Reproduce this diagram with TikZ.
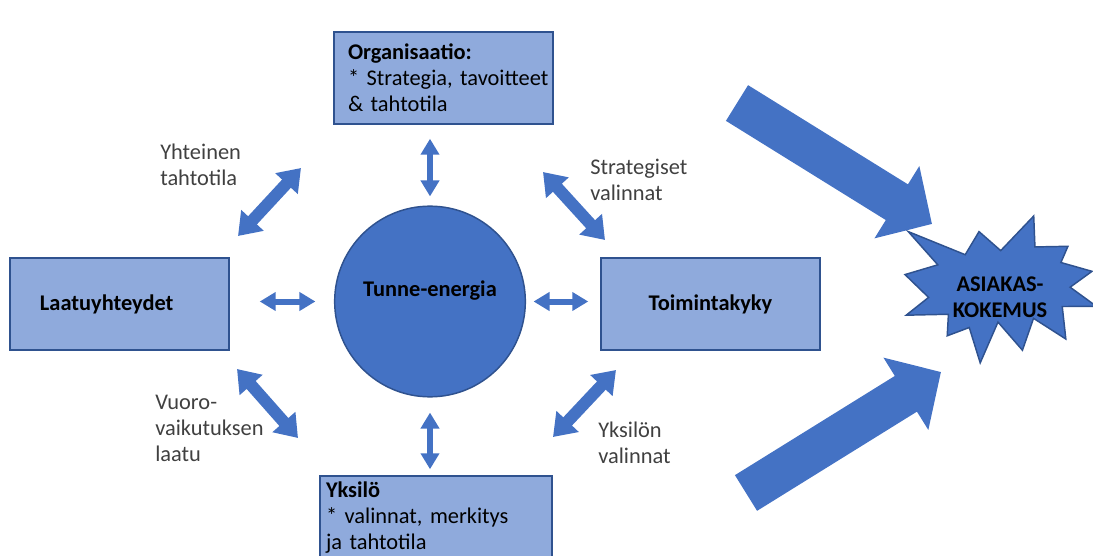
\documentclass[tikz,border=0pt]{standalone}
\usepackage{fontspec}
\setmainfont{Carlito}
\usepackage{tikz}
\usetikzlibrary{arrows.meta}
\definecolor{tummasin}{HTML}{2F528F}
\definecolor{sininen}{HTML}{4472C4}
\definecolor{vaalea}{HTML}{8FAADC}
\definecolor{harmaa}{HTML}{404040}
\newcommand{\teksti}{\fontsize{16.8}{19.5}\selectfont}
\tikzstyle{laatikko}=[
        draw=tummasin,
        line width=1.1pt,
        fill=vaalea,
        inner ysep=0pt,
        minimum height=69pt,
        font=\teksti
]
\tikzstyle{selite}=[text=harmaa,align=left,inner sep=0pt,anchor=west,font=\teksti]
\tikzstyle{pieni}=[draw=sininen,line width=4.5pt,
{Triangle[width=13.5pt,length=12pt]}-{Triangle[width=13.5pt,length=12pt]}]
\tikzstyle{keski}=[draw=sininen,line width=9pt,
{Triangle[width=22pt,length=16pt]}-{Triangle[width=22pt,length=16pt]}]
\tikzstyle{iso}=[draw=sininen,line width=31.5pt,-{Triangle[width=62pt,length=31pt]}]

\begin{document}
\begin{tikzpicture}[x=0.75pt,y=-0.75pt]
\useasboundingbox (0,0) rectangle (1093,556);
\node[laatikko,text width=143.25pt,inner xsep=10.5pt,align=left] (org) at (443.5,78)
  {\textbf{Organisaatio:}\\\mbox{* Strategia, tavoitteet}\\\& tahtotila};
\node[laatikko,text width=119.25pt,inner xsep=22.5pt,align=left] (laatu) at (119.5,304)
  {\textbf{Laatuyhteydet}};
\node[laatikko,text width=140pt,inner xsep=12.125pt,align=center] (toim) at (710.5,304)
  {\textbf{Toimintakyky}};
\node[laatikko,text width=165pt,inner xsep=4.5pt,align=left,minimum height=63pt] (yksilo) at (436,518)
  {\textbf{Yksilö}\\\mbox{* valinnat, merkitys}\\ja tahtotila};
\node[circle,draw=tummasin,fill=sininen,line width=1.1pt,minimum size=143pt,inner sep=0pt,
  label={[font=\teksti\bfseries,yshift=8pt]center:Tunne-energia}] (tunne) at (430,301.5) {};

\node[selite] (yht) at (160,165) {Yhteinen\\tahtotila};
\node[selite] (strat) at (590,180) {Strategiset\\valinnat};
\node[selite] (vuoro) at (155,428) {Vuoro-\\vaikutuksen\\laatu};
\node[selite] (yksval) at (598,443) {Yksilön\\valinnat};

%nuolet keskeltä
\draw[pieni,shorten <=6.75pt,shorten >=10.5pt] (tunne) -- (tunne |- org.south);
\draw[pieni,shorten <=11.25pt,shorten >=4.5pt] (tunne) -- (tunne |- yksilo.north);
\draw[pieni,shorten <=13.9pt,shorten >=22.5pt] (tunne) -- (tunne -| laatu.east);
\draw[pieni,shorten <=5.6pt,shorten >=9pt] (tunne) -- (tunne -| toim.west);

\coordinate (ul1) at (238,236);
\coordinate (ul2) at (301,168);
\coordinate (ur1) at (543,172);
\coordinate (ur2) at (605,240);
\coordinate (ll1) at (237,369);
\coordinate (ll2) at (298,438);
\coordinate (lr1) at (553,437);
\coordinate (lr2) at (616,370);
\draw[keski] (ul1) -- (ul2);
\draw[keski] (ur1) -- (ur2);
\draw[keski] (ll1) -- (ll2);
\draw[keski] (lr1) -- (lr2);

%isot nuolet
\coordinate (ylä1) at (737,103);
\coordinate (ylä2) at (932,224);
\coordinate (ala1) at (746,493);
\coordinate (ala2) at (941,372);
\draw[iso] (ylä1) -- (ylä2);
\draw[iso] (ala1) -- (ala2);

\begin{scope}[shift={(905,216)},x=0.6648pt,y=-0.51pt]
\filldraw[fill=sininen,draw=tummasin,line width=1.1pt]
  (108,50.95) -- (145.22,0) -- (146.6,45.5) -- (183.8,44.57) -- (175.9,68.4)
  -- (210.97,81.37) -- (186.3,104.7) -- (216,132.9) -- (177.4,133.1)
  -- (181.45,180.95) -- (145,150.5) -- (132.47,197.37) -- (104.9,156)
  -- (84.85,216) -- (72.5,164) -- (47.62,176.17) -- (49,144.5)
  -- (1.35,145.87) -- (26.6,119.7) -- (0,86.15) -- (37,71.8)
  -- (3.7,22.95) -- (67.9,56.9) -- (83.52,22.95) -- cycle;
\end{scope}
\node[align=center,font=\teksti\bfseries,inner sep=0pt] (asiakas) at (1000,297) {ASIAKAS-\\KOKEMUS};
\end{tikzpicture}
\end{document}
